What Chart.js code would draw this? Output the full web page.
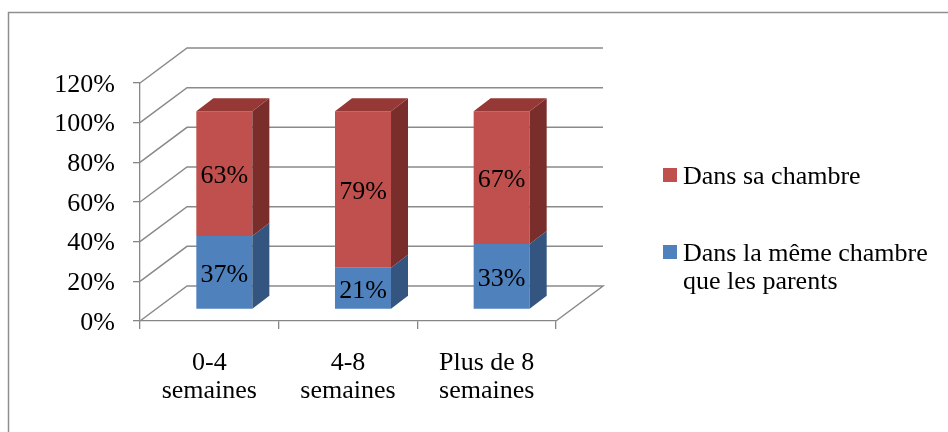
<!DOCTYPE html>
<html>
<head>
<meta charset="utf-8">
<script src="https://cdn.jsdelivr.net/npm/chart.js@4"></script>
<style>
html,body{margin:0;padding:0;background:#fff;}
#wrap{width:948px;height:432px;}
</style>
</head>
<body>
<div id="wrap"><canvas id="c" width="948" height="432"></canvas></div>
<script>
const categories = [['0-4', 'semaines'], ['4-8', 'semaines'], ['Plus de 8', 'semaines']];
const seriesMemeChambre = [37, 21, 33];
const seriesSaChambre = [63, 79, 67];
const seriesNames = [['Dans la même chambre', 'que les parents'], ['Dans sa chambre']];
const yTicks = [0, 20, 40, 60, 80, 100, 120];

const FONT = '"Liberation Serif", "Times New Roman", serif';
const DEPTH = {dx: 47, dy: -35};
const BAR_OFF = {dx: 15, dy: -11.5};
const BAR_DEPTH = {dx: 17, dy: -13};
const sideColors = ['#33557f', '#7a2e2c'];
const topColors = ['#3f6a9c', '#953836'];

const threeD = {
  id: 'threeD',
  beforeDraw(chart) {
    const ctx = chart.ctx;
    ctx.save();
    ctx.fillStyle = '#fff';
    ctx.fillRect(0, 0, chart.width, chart.height);
    ctx.strokeStyle = '#8f8f8f';
    ctx.lineWidth = 1.5;
    ctx.strokeRect(8.5, 12.5, 1200, 800);
    ctx.restore();
  },
  beforeDatasetsDraw(chart) {
    const ctx = chart.ctx;
    const ys = chart.scales.y;
    const a = chart.chartArea;
    ctx.save();
    ctx.strokeStyle = '#8a8a8a';
    ctx.lineWidth = 1.5;
    yTicks.forEach(v => {
      const yf = ys.getPixelForValue(v);
      ctx.beginPath();
      ctx.moveTo(a.left, yf);
      ctx.lineTo(a.left + DEPTH.dx, yf + DEPTH.dy);
      ctx.lineTo(a.right + DEPTH.dx, yf + DEPTH.dy);
      if (v === 0) ctx.lineTo(a.right, yf);
      ctx.stroke();
    });
    ctx.restore();
    ctx.save();
    ctx.translate(BAR_OFF.dx, BAR_OFF.dy);
  },
  afterDatasetsDraw(chart) {
    const ctx = chart.ctx;
    const n = chart.data.datasets.length;
    for (let d = 0; d < n; d++) {
      const meta = chart.getDatasetMeta(d);
      meta.data.forEach(el => {
        const p = el.getProps(['x', 'y', 'base', 'width'], true);
        const l = p.x - p.width / 2, r = p.x + p.width / 2;
        const top = Math.min(p.y, p.base), bot = Math.max(p.y, p.base);
        ctx.fillStyle = sideColors[d];
        ctx.beginPath();
        ctx.moveTo(r, top);
        ctx.lineTo(r + BAR_DEPTH.dx, top + BAR_DEPTH.dy);
        ctx.lineTo(r + BAR_DEPTH.dx, bot + BAR_DEPTH.dy);
        ctx.lineTo(r, bot);
        ctx.closePath();
        ctx.fill();
        if (d === n - 1) {
          ctx.fillStyle = topColors[d];
          ctx.beginPath();
          ctx.moveTo(l, top);
          ctx.lineTo(l + BAR_DEPTH.dx, top + BAR_DEPTH.dy);
          ctx.lineTo(r + BAR_DEPTH.dx, top + BAR_DEPTH.dy);
          ctx.lineTo(r, top);
          ctx.closePath();
          ctx.fill();
        }
      });
    }
    // data labels
    ctx.fillStyle = '#000';
    ctx.font = '26px ' + FONT;
    ctx.textAlign = 'center';
    ctx.textBaseline = 'middle';
    for (let d = 0; d < n; d++) {
      const meta = chart.getDatasetMeta(d);
      const vals = chart.data.datasets[d].data;
      meta.data.forEach((el, i) => {
        const p = el.getProps(['x', 'y', 'base'], true);
        ctx.fillText(vals[i] + '%', p.x, (p.y + p.base) / 2 + 3);
      });
    }
    ctx.restore();
    // legend
    ctx.save();
    ctx.font = '26px ' + FONT;
    ctx.textAlign = 'left';
    ctx.textBaseline = 'middle';
    const entries = [
      {ds: 1, y: 175},
      {ds: 0, y: 252}
    ];
    entries.forEach(e => {
      const ds = chart.data.datasets[e.ds];
      ctx.fillStyle = ds.backgroundColor;
      ctx.fillRect(663, e.y - 7, 14, 14);
      ctx.fillStyle = '#000';
      const lines = Array.isArray(ds.label) ? ds.label : [ds.label];
      lines.forEach((t, k) => ctx.fillText(t, 683, e.y + 2 + k * 28));
    });
    ctx.restore();
  }
};

new Chart(document.getElementById('c'), {
  type: 'bar',
  data: {
    labels: categories,
    datasets: [
      {label: seriesNames[0], data: seriesMemeChambre, backgroundColor: '#4f81bd', borderWidth: 0, clip: false},
      {label: seriesNames[1], data: seriesSaChambre, backgroundColor: '#c0504d', borderWidth: 0, clip: false}
    ]
  },
  options: {
    responsive: false,
    devicePixelRatio: 1,
    animation: false,
    layout: {padding: {left: 10, top: 83, right: 392, bottom: 0}},
    plugins: {legend: {display: false}, tooltip: {enabled: false}},
    datasets: {bar: {categoryPercentage: 1, barPercentage: 0.404}},
    scales: {
      x: {
        stacked: true,
        offset: true,
        grid: {display: true, offset: true, drawOnChartArea: false, drawTicks: true, tickLength: 8, color: '#868686', lineWidth: 1.3},
        border: {display: true, color: '#868686', width: 1.3},
        ticks: {color: '#000', font: {family: FONT, size: 26, lineHeight: 1.05}, padding: 21, autoSkip: false, maxRotation: 0},
        afterFit(s) { s.height = 111; }
      },
      y: {
        stacked: true,
        min: 0, max: 120,
        afterBuildTicks(s) { s.ticks = yTicks.map(v => ({value: v})); },
        grid: {display: true, drawOnChartArea: false, drawTicks: true, tickLength: 7, color: '#868686', lineWidth: 1.3},
        border: {display: true, color: '#868686', width: 1.3},
        ticks: {color: '#000', font: {family: FONT, size: 26}, padding: 18, labelOffset: 2, callback: v => v + '%'},
        afterFit(s) { s.width = 130; }
      }
    }
  },
  plugins: [threeD]
});
</script>
</body>
</html>
